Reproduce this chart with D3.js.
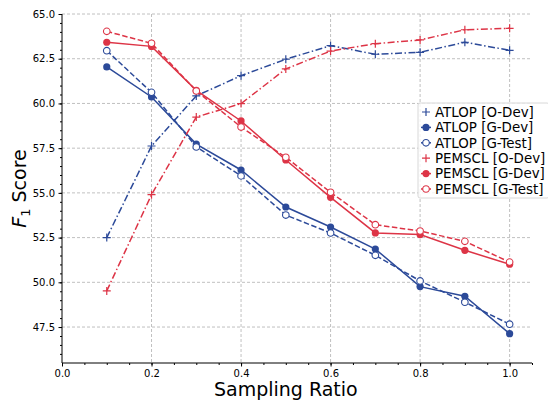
<!DOCTYPE html>
<html>
<head>
<meta charset="utf-8">
<script src="https://cdn.jsdelivr.net/npm/d3@7"></script>
<style>
  body { margin: 0; background: #fff; }
  text { font-family: "DejaVu Sans", sans-serif; }
</style>
</head>
<body>
<div id="root"></div>
<script>
const ratios = [0.1, 0.2, 0.3, 0.4, 0.5, 0.6, 0.7, 0.8, 0.9, 1.0];
const atlopODev = [52.5, 57.62, 60.42, 61.55, 62.47, 63.23, 62.75, 62.86, 63.42, 62.97];
const atlopGDev = [62.04, 60.36, 57.73, 56.28, 54.21, 53.09, 51.86, 49.76, 49.22, 47.13];
const atlopGTest = [62.95, 60.62, 57.57, 55.95, 53.76, 52.76, 51.51, 50.08, 48.89, 47.66];
const pemsclODev = [49.52, 54.9, 59.24, 59.99, 61.93, 62.93, 63.34, 63.55, 64.12, 64.2];
const pemsclGDev = [63.42, 63.19, 60.73, 59.02, 56.84, 54.75, 52.76, 52.67, 51.79, 51.01];
const pemsclGTest = [64.03, 63.36, 60.7, 58.68, 56.99, 55.03, 53.22, 52.87, 52.29, 51.13];
const xTicks = [0.0, 0.2, 0.4, 0.6, 0.8, 1.0];
const yTicks = [47.5, 50.0, 52.5, 55.0, 57.5, 60.0, 62.5, 65.0];

const blue = "#2c4a99";
const red = "#dd3446";

const series = [
  { name: "ATLOP [O-Dev]", values: atlopODev, color: blue, dash: "7,2.5,1.5,2.5", marker: "plus" },
  { name: "ATLOP [G-Dev]", values: atlopGDev, color: blue, dash: null, marker: "dot" },
  { name: "ATLOP [G-Test]", values: atlopGTest, color: blue, dash: "5.5,2.5", marker: "ring" },
  { name: "PEMSCL [O-Dev]", values: pemsclODev, color: red, dash: "7,2.5,1.5,2.5", marker: "plus" },
  { name: "PEMSCL [G-Dev]", values: pemsclGDev, color: red, dash: null, marker: "dot" },
  { name: "PEMSCL [G-Test]", values: pemsclGTest, color: red, dash: "5.5,2.5", marker: "ring" }
];

const W = 548, H = 403;
const margin = { top: 14, right: 16, bottom: 40, left: 62 };
const width = W - margin.left - margin.right;
const height = H - margin.top - margin.bottom;

const svg = d3.select("#root").append("svg")
  .attr("width", W)
  .attr("height", H);

const g = svg.append("g")
  .attr("transform", "translate(" + margin.left + "," + margin.top + ")");

const x = d3.scaleLinear().domain([0, 1.05]).range([0, width]);
const y = d3.scaleLinear().domain([45.49, 65.0]).range([height, 0]);

// grid
g.append("g").selectAll("line")
  .data(yTicks)
  .enter().append("line")
  .attr("x1", 0).attr("x2", width)
  .attr("y1", d => y(d)).attr("y2", d => y(d))
  .attr("stroke", "#b0b0b0").attr("stroke-width", 0.8)
  .attr("stroke-dasharray", "3,2");

g.append("g").selectAll("line")
  .data(xTicks.filter(d => d > 0))
  .enter().append("line")
  .attr("x1", d => x(d)).attr("x2", d => x(d))
  .attr("y1", 0).attr("y2", height)
  .attr("stroke", "#b0b0b0").attr("stroke-width", 0.8)
  .attr("stroke-dasharray", "3,2");

// axes
const xAxis = g.append("g")
  .attr("transform", "translate(0," + height + ")")
  .call(d3.axisBottom(x).tickValues(xTicks).tickFormat(d3.format(".1f")).tickSize(3.5).tickPadding(3.5));
g.append("g")
  .attr("transform", "translate(0," + height + ")")
  .call(d3.axisBottom(x).tickValues(d3.range(0, 1.0501, 0.05)).tickFormat("").tickSize(2))
  .select(".domain").remove();

const yAxis = g.append("g")
  .call(d3.axisLeft(y).tickValues(yTicks).tickFormat(d3.format(".1f")).tickSize(3.5).tickPadding(3.5));
g.append("g")
  .call(d3.axisLeft(y).tickValues(d3.range(46, 65.01, 0.5)).tickFormat("").tickSize(2))
  .select(".domain").remove();

[xAxis, yAxis].forEach(a => {
  a.selectAll("text").attr("font-size", 10).attr("fill", "#000").attr("font-family", "DejaVu Sans, sans-serif");
  a.select(".domain").attr("stroke", "#000").attr("stroke-width", 1);
});
yAxis.select(".domain").attr("d", "M0," + height + "V0");
xAxis.select(".domain").attr("d", "M0,0H" + width);

// lines
const line = d3.line()
  .x((d, i) => x(ratios[i]))
  .y(d => y(d));

function drawMarker(sel, type, color) {
  if (type === "plus") {
    sel.append("path")
      .attr("d", "M-4,0H4M0,-4V4")
      .attr("stroke", color).attr("stroke-width", 1.2).attr("fill", "none");
  } else if (type === "dot") {
    sel.append("circle").attr("r", 3.6).attr("fill", color);
  } else {
    sel.append("circle").attr("r", 3.3).attr("fill", "#fff")
      .attr("stroke", color).attr("stroke-width", 1.1);
  }
}

series.forEach(s => {
  g.append("path")
    .datum(s.values)
    .attr("d", line)
    .attr("fill", "none")
    .attr("stroke", s.color)
    .attr("stroke-width", 1.5)
    .attr("stroke-dasharray", s.dash);

  g.append("g").selectAll("g")
    .data(s.values)
    .enter().append("g")
    .attr("transform", (d, i) => "translate(" + x(ratios[i]) + "," + y(d) + ")")
    .each(function() { drawMarker(d3.select(this), s.marker, s.color); });
});

// legend
const legend = svg.append("g").attr("transform", "translate(418,103)");
legend.append("rect")
  .attr("width", 131).attr("height", 95).attr("rx", 2)
  .attr("fill", "#fff").attr("fill-opacity", 0.8)
  .attr("stroke", "#d8d8d8");
series.forEach((s, i) => {
  const row = legend.append("g").attr("transform", "translate(0," + (9 + i * 15.4) + ")");
  const m = row.append("g").attr("transform", "translate(8,0)");
  if (s.marker !== "plus") {
    m.append("path").attr("d", "M-5,0H5").attr("stroke", s.color).attr("stroke-width", 1.5);
  }
  drawMarker(m, s.marker, s.color);
  row.append("text")
    .attr("x", 17).attr("y", 0).attr("dy", "0.36em")
    .attr("font-size", 13.4).attr("fill", "#000")
    .text(s.name);
});

// axis titles
svg.append("text")
  .attr("x", margin.left + x(0.5)).attr("y", 396)
  .attr("text-anchor", "middle").attr("font-size", 19)
  .text("Sampling Ratio");

const yt = svg.append("text")
  .attr("transform", "translate(26," + (margin.top + height / 2) + ") rotate(-90)")
  .attr("text-anchor", "middle").attr("font-size", 19);
yt.append("tspan").attr("font-style", "italic").text("F");
yt.append("tspan").attr("font-size", 13).attr("dy", 4).text("1");
yt.append("tspan").attr("dy", -4).text(" Score");
</script>
</body>
</html>
